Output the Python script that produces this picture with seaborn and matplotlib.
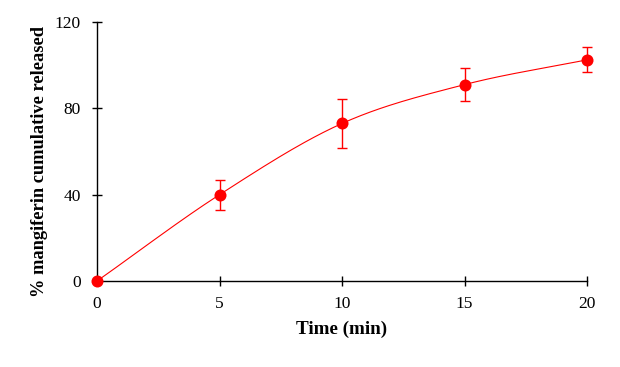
import numpy as np
import pandas as pd
import matplotlib
matplotlib.use('Agg')
import matplotlib.pyplot as plt
import seaborn as sns

time_min = [0, 5, 10, 15, 20]
released = [0, 40, 73, 91, 102.5]
err = [0, 7, 11.5, 7.7, 5.8]


def smooth(x, y, n=40):
    # Catmull-Rom curve through the points (like a spreadsheet smoothed line)
    x = np.asarray(x, float)
    y = np.asarray(y, float)
    px = np.concatenate([[2 * x[0] - x[1]], x, [2 * x[-1] - x[-2]]])
    py = np.concatenate([[2 * y[0] - y[1]], y, [2 * y[-1] - y[-2]]])
    t = np.linspace(0, 1, n)
    xs, ys = [], []
    for i in range(1, len(px) - 2):
        for p, out in ((px, xs), (py, ys)):
            p0, p1, p2, p3 = p[i - 1], p[i], p[i + 1], p[i + 2]
            out.append(0.5 * (2 * p1 + (-p0 + p2) * t
                              + (2 * p0 - 5 * p1 + 4 * p2 - p3) * t ** 2
                              + (-p0 + 3 * p1 - 3 * p2 + p3) * t ** 3))
    return np.concatenate(xs), np.concatenate(ys)


sns.set_style('ticks')
plt.rcParams['font.family'] = ['Liberation Serif', 'DejaVu Serif']
plt.rcParams['text.color'] = 'black'
plt.rcParams['axes.labelcolor'] = 'black'
plt.rcParams['xtick.color'] = 'black'
plt.rcParams['ytick.color'] = 'black'
plt.rcParams['axes.edgecolor'] = 'black'

df = pd.DataFrame({'time': time_min, 'released': released, 'err': err})
cx, cy = smooth(df['time'], df['released'])

fig = plt.figure(figsize=(6.2, 3.67), dpi=100)
ax = fig.add_axes([0.1565, 0.2343, 0.7903, 0.7057])

sns.lineplot(x=cx, y=cy, ax=ax, color='red', linewidth=0.8, sort=False)
eb = ax.errorbar(df['time'], df['released'], yerr=df['err'], fmt='none',
                 ecolor='red', elinewidth=1, capsize=3.4, capthick=1)
sns.scatterplot(data=df, x='time', y='released', ax=ax, color='red',
                s=75, edgecolor='red', linewidth=0, zorder=5)

for art in ax.lines + ax.collections:
    art.set_clip_on(False)

ax.set_xlim(0, 20)
ax.set_ylim(0, 120)
ax.set_xticks([0, 5, 10, 15, 20])
ax.set_yticks([0, 40, 80, 120])
for s in ['top', 'right']:
    ax.spines[s].set_visible(False)
for s in ['left', 'bottom']:
    ax.spines[s].set_linewidth(1)
ax.tick_params(axis='both', direction='inout', length=7.5, width=1, labelsize=12.5)
ax.tick_params(axis='x', pad=7)
ax.tick_params(axis='y', pad=8)

ax.set_xlabel('Time (min)', fontsize=13.8, fontweight='bold')
ax.set_ylabel('% mangiferin cumulative released', fontsize=13.2, fontweight='bold')
ax.xaxis.set_label_coords(0.5, -0.152)
ax.yaxis.set_label_coords(-0.1, 0.463)

fig.savefig('out.png', dpi=100)
